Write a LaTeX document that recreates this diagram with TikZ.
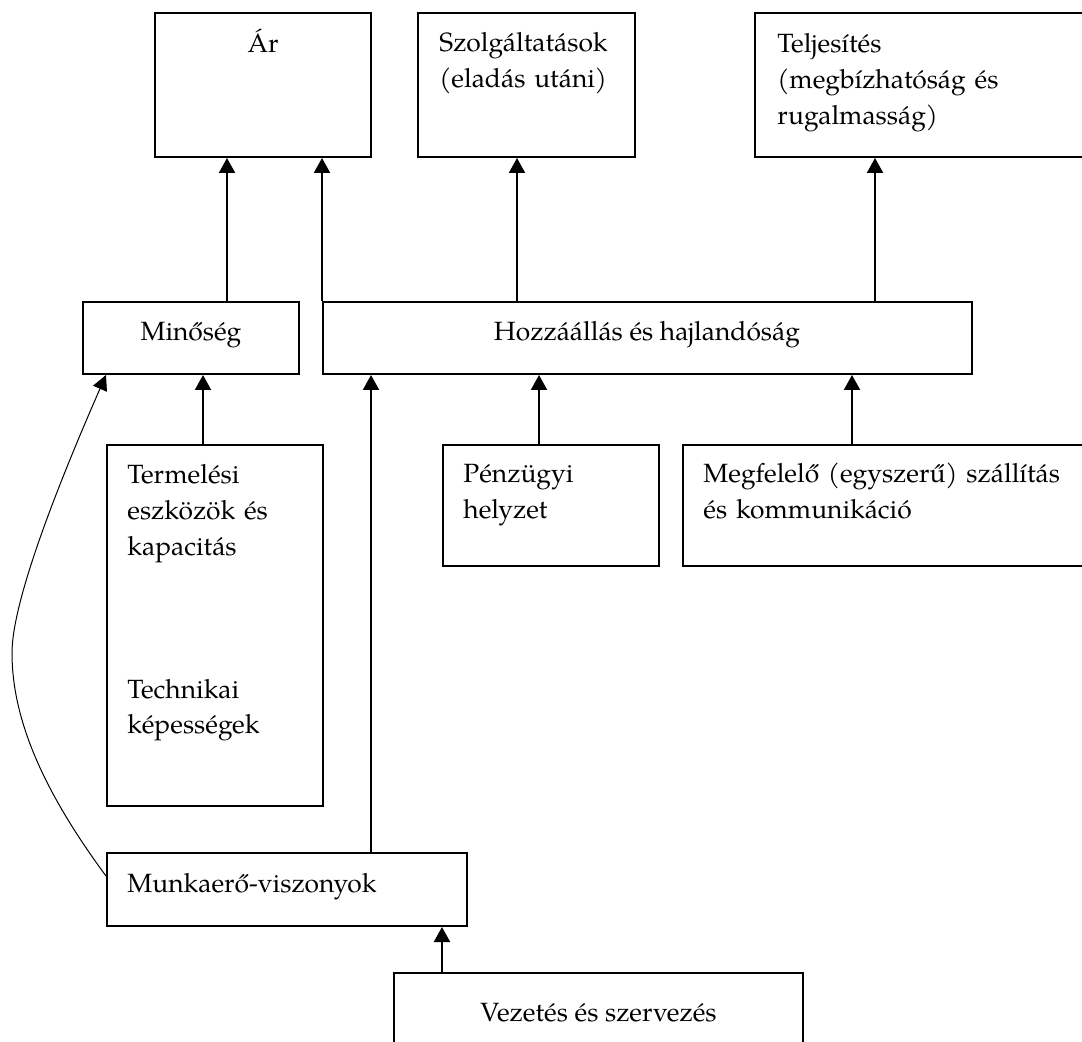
\documentclass[tikz,border=0pt]{standalone}
\usepackage{fontspec}
\setmainfont{texgyrepagella-regular.otf}
\usetikzlibrary{arrows.meta}
\begin{document}
\begin{tikzpicture}[x=0.5pt,y=-0.5pt,
  box/.style={draw, line width=1pt, inner sep=0pt, rectangle},
  lbl/.style={inner sep=0pt, font=\fontsize{13.2}{17.85}\selectfont},
  arr/.style={line width=1pt, -{Triangle[width=8pt,length=7.5pt]}},
  curvearr/.style={line width=0.5pt, -{Triangle[width=7.5pt,length=7.5pt]}}]
\useasboundingbox (0,0) rectangle (1082,1042);
\clip (0,0) rectangle (1082,1042);
% boxes
\node[box, minimum width=108pt,   minimum height=72pt]   (ar)  at (263,85) {};
\node[box, minimum width=108.5pt, minimum height=72pt]   (szo) at (526.5,85) {};
\node[box, minimum width=177.5pt, minimum height=72pt]   (tel) at (932.5,85) {};
\node[box, minimum width=108pt,   minimum height=36pt]   (min) at (191,338) {};
\node[box, minimum width=324.5pt, minimum height=36pt]   (hoz) at (647.5,338) {};
\node[box, minimum width=108pt,   minimum height=180.5pt](ter) at (215,625.5) {};
\node[box, minimum width=108pt,   minimum height=60.5pt] (pen) at (551,505.5) {};
\node[box, minimum width=213.5pt, minimum height=60.5pt] (meg) at (896.5,505.5) {};
\node[box, minimum width=180pt,   minimum height=36.5pt] (mun) at (287,889.5) {};
\node[box, minimum width=204.5pt, minimum height=43.5pt] (vez) at (598.5,1016.5) {};
% labels
\node[lbl, anchor=base] (tar) at (263,53) {Ár};
\node[lbl, anchor=base west, text width=100pt, align=left] (tszo) at (439,52) {Szolgáltatások\\(eladás utáni)};
\node[lbl, anchor=base west, text width=160pt, align=left] (ttel) at (777,53) {Teljesítés\\(megbízhatóság és\\rugalmasság)};
\node[lbl, anchor=base] (tmin) at (191,341) {Minőség};
\node[lbl, anchor=base] (thoz) at (647,341) {Hozzáállás és hajlandóság};
\node[lbl, anchor=base west, text width=98pt, align=left] (tter) at (127,484) {Termelési\\eszközök és\\kapacitás\\[53.55pt]Technikai\\képességek};
\node[lbl, anchor=base west, text width=98pt, align=left] (tpen) at (463,483) {Pénzügyi\\helyzet};
\node[lbl, anchor=base west, text width=198pt, align=left] (tmeg) at (703,483) {Megfelelő (egyszerű) szállítás\\és kommunikáció};
\node[lbl, anchor=base west] (tmun) at (127,892) {Munkaerő-viszonyok};
\node[lbl, anchor=base] (tvez) at (598.5,1021) {Vezetés és szervezés};
% connector anchors
\coordinate (a1) at ([xshift=18pt]min.north);
\coordinate (a3) at ([xshift=-65.25pt]hoz.north);
\coordinate (a4) at ([xshift=113.75pt]hoz.north);
\coordinate (a5) at ([xshift=-6pt]ter.north);
\coordinate (a6) at ([xshift=42pt]mun.north);
\coordinate (a7) at ([xshift=-6pt]pen.north);
\coordinate (a8) at ([xshift=-22.25pt]meg.north);
\coordinate (a9) at ([xshift=-78.25pt]vez.north);
\coordinate (cs) at ([yshift=6.75pt]mun.west);
% connectors
\draw[arr] (a1) -- (a1 |- ar.south);
\draw[arr] (hoz.north west) -- (hoz.north west |- ar.south);
\draw[arr] (a3) -- (a3 |- szo.south);
\draw[arr] (a4) -- (a4 |- tel.south);
\draw[arr] (a5) -- (a5 |- min.south);
\draw[arr] (a6) -- (a6 |- hoz.south);
\draw[arr] (a7) -- (a7 |- hoz.south);
\draw[arr] (a8) -- (a8 |- hoz.south);
\draw[arr] (a9) -- (a9 |- mun.south);
\draw[curvearr] (cs) .. controls (47,796) and (12,723) .. (12,653)
  .. controls (12,600) and (60,480) .. (mun.west |- min.south);
\end{tikzpicture}
\end{document}
